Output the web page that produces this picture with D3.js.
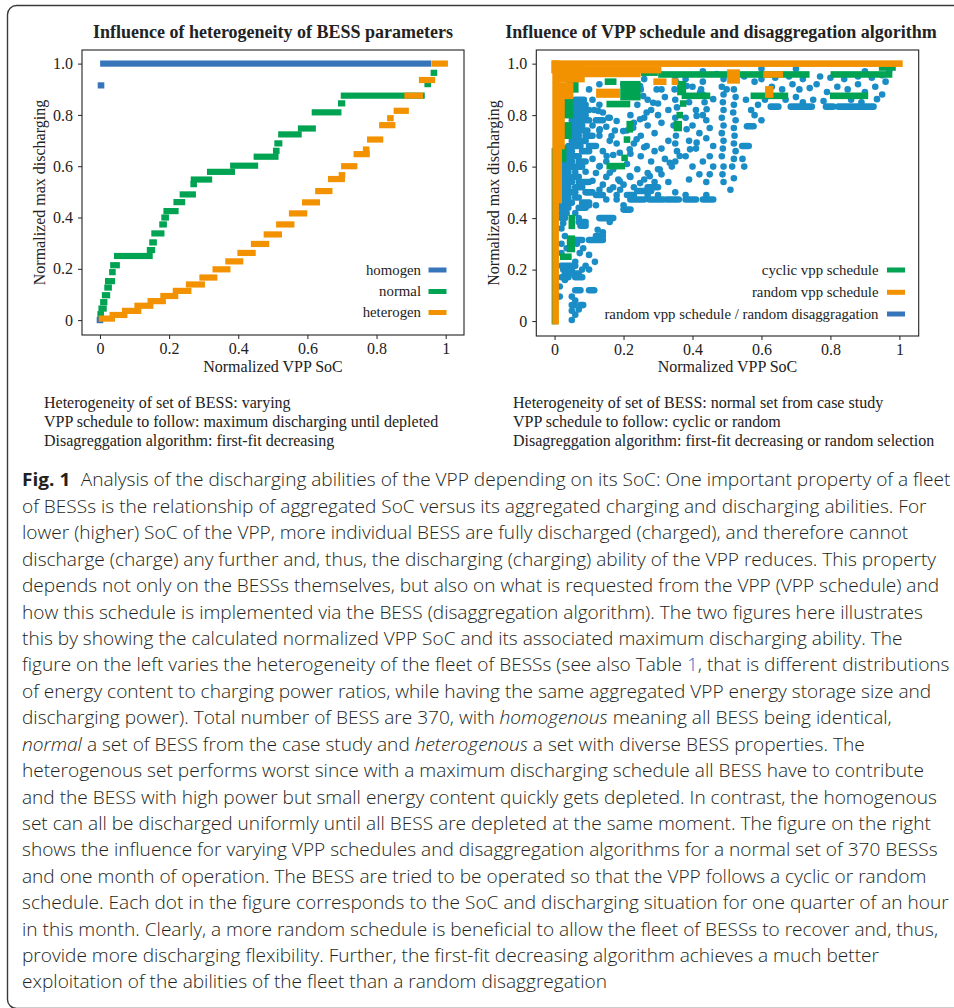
<!DOCTYPE html>
<html>
<head>
<meta charset="utf-8">
<script src="https://cdn.jsdelivr.net/npm/d3@7"></script>
<style>
	body { margin: 0; background: #fff; }
	svg { display: block; }
</style>
</head>
<body>
<div id="graphic"></div>
<script>
var graphic = d3.select('#graphic');

// ---- left panel: runs of square markers, [x first, x last, y] (marker centres)
var homogenSteps = [
	[0.0, 0.0, 0.0], [0.003, 0.003, 0.915], [0.01, 0.948, 1.0]
];
var normalSteps = [
	[0.002, 0.002, 0.023], [0.005, 0.01, 0.045], [0.01, 0.012, 0.07], [0.015, 0.02, 0.097],
	[0.022, 0.025, 0.127], [0.024, 0.034, 0.152], [0.036, 0.036, 0.187], [0.039, 0.048, 0.214],
	[0.05, 0.143, 0.25], [0.145, 0.15, 0.273], [0.152, 0.155, 0.303], [0.158, 0.177, 0.338],
	[0.181, 0.184, 0.373], [0.187, 0.19, 0.4], [0.193, 0.218, 0.425], [0.222, 0.237, 0.46],
	[0.24, 0.268, 0.49], [0.271, 0.271, 0.53], [0.272, 0.315, 0.548], [0.319, 0.381, 0.578],
	[0.386, 0.448, 0.602], [0.454, 0.507, 0.637], [0.51, 0.51, 0.66], [0.514, 0.518, 0.689],
	[0.525, 0.574, 0.724], [0.582, 0.615, 0.747], [0.622, 0.689, 0.81], [0.698, 0.7, 0.845],
	[0.706, 0.93, 0.875], [0.948, 0.948, 0.92], [0.966, 0.966, 0.964]
];
var heterogenSteps = [
	[0.006, 0.034, 0.006], [0.037, 0.07, 0.02], [0.073, 0.11, 0.036], [0.109, 0.145, 0.056],
	[0.147, 0.181, 0.074], [0.184, 0.217, 0.094], [0.22, 0.255, 0.114], [0.258, 0.294, 0.139],
	[0.297, 0.33, 0.166], [0.335, 0.368, 0.198], [0.372, 0.405, 0.229], [0.407, 0.441, 0.262],
	[0.446, 0.48, 0.297], [0.483, 0.517, 0.334], [0.519, 0.553, 0.373], [0.556, 0.59, 0.416],
	[0.594, 0.627, 0.459], [0.632, 0.663, 0.503], [0.669, 0.699, 0.55], [0.7, 0.7, 0.565],
	[0.707, 0.735, 0.6], [0.743, 0.771, 0.647], [0.77, 0.77, 0.665], [0.782, 0.81, 0.704],
	[0.817, 0.845, 0.76], [0.84, 0.84, 0.787], [0.859, 0.884, 0.816], [0.89, 0.925, 0.875],
	[0.932, 0.96, 0.936], [0.968, 0.997, 1.0]
];

// ---- right panel: square marker blocks [x0, x1, y0, y1] and dot runs [x0, x1, y]
var cyclicRuns = [
	[0.001, 0.001, 0.0, 0.66], [0.025, 0.04, 0.25, 0.25], [0.045, 0.05, 0.28, 0.32],
	[0.05, 0.05, 0.37, 0.4], [0.015, 0.025, 0.63, 0.67], [0.03, 0.04, 0.72, 0.76],
	[0.035, 0.045, 0.8, 0.85], [0.045, 0.06, 0.9, 0.95], [0.1, 0.1, 0.965, 0.965], [0.155, 0.17, 0.93, 0.93],
	[0.2, 0.24, 0.87, 0.92], [0.16, 0.21, 0.843, 0.843], [0.218, 0.218, 0.745, 0.765],
	[0.21, 0.21, 0.705, 0.705], [0.203, 0.203, 0.634, 0.634], [0.16, 0.195, 0.602, 0.602],
	[0.26, 0.29, 0.965, 0.965], [0.31, 0.73, 0.958, 0.958], [0.81, 0.97, 0.958, 0.958],
	[0.95, 0.98, 0.985, 0.985], [0.365, 0.372, 0.89, 0.92], [0.378, 0.442, 0.875, 0.875],
	[0.578, 0.668, 0.875, 0.875], [0.808, 0.9, 0.875, 0.875], [0.373, 0.373, 0.845, 0.845],
	[0.363, 0.363, 0.8, 0.8], [0.355, 0.36, 0.75, 0.765]
];
var randomRuns = [
	[0.003, 0.003, 0.0, 1.0], [0.0, 1.0, 1.0, 1.0], [0.0, 0.3, 0.975, 0.975],
	[0.09, 0.24, 0.96, 0.96], [0.005, 0.078, 0.94, 0.98], [0.006, 0.045, 0.875, 0.915],
	[0.006, 0.02, 0.68, 0.86], [0.006, 0.012, 0.47, 0.68], [0.13, 0.18, 0.88, 0.89],
	[0.296, 0.315, 0.93, 0.93], [0.349, 0.349, 0.93, 0.93], [0.51, 0.528, 0.935, 0.965],
	[0.615, 0.653, 0.958, 0.958], [0.62, 0.625, 0.88, 0.9]
];
var randomDisaggDots = [
	[0.05, 0.05, 0.004], [0.06, 0.06, 0.025], [0.05, 0.05, 0.04], [0.07, 0.07, 0.045],
	[0.05, 0.058, 0.062], [0.075, 0.083, 0.062], [0.06, 0.06, 0.08], [0.015, 0.015, 0.095],
	[0.05, 0.05, 0.095], [0.06, 0.075, 0.12], [0.1, 0.115, 0.12], [0.015, 0.015, 0.134],
	[0.03, 0.03, 0.16], [0.02, 0.04, 0.17], [0.06, 0.08, 0.17], [0.03, 0.07, 0.185],
	[0.025, 0.05, 0.2], [0.08, 0.08, 0.2], [0.1, 0.1, 0.2], [0.02, 0.06, 0.215],
	[0.09, 0.09, 0.215], [0.117, 0.117, 0.23], [0.06, 0.06, 0.23], [0.1, 0.1, 0.257],
	[0.02, 0.02, 0.264], [0.073, 0.073, 0.264], [0.035, 0.035, 0.283], [0.083, 0.083, 0.283],
	[0.02, 0.02, 0.3], [0.065, 0.065, 0.3], [0.055, 0.08, 0.315], [0.1, 0.14, 0.315],
	[0.03, 0.03, 0.33], [0.12, 0.14, 0.33], [0.14, 0.14, 0.345], [0.125, 0.125, 0.355],
	[0.02, 0.02, 0.36], [0.075, 0.09, 0.37], [0.16, 0.16, 0.385], [0.025, 0.025, 0.38],
	[0.07, 0.09, 0.385], [0.02, 0.03, 0.4], [0.07, 0.07, 0.4], [0.13, 0.17, 0.4],
	[0.02, 0.035, 0.42], [0.06, 0.06, 0.42], [0.2, 0.22, 0.433], [0.02, 0.04, 0.44],
	[0.07, 0.09, 0.44], [0.1, 0.1, 0.45], [0.12, 0.12, 0.45], [0.2, 0.2, 0.45],
	[0.02, 0.05, 0.46], [0.08, 0.1, 0.46], [0.15, 0.15, 0.472], [0.18, 0.18, 0.472],
	[0.22, 0.26, 0.472], [0.275, 0.315, 0.472], [0.325, 0.36, 0.472], [0.38, 0.41, 0.472],
	[0.43, 0.46, 0.472], [0.02, 0.04, 0.48], [0.06, 0.07, 0.48],
	[0.12, 0.14, 0.49], [0.18, 0.18, 0.49], [0.21, 0.23, 0.49], [0.27, 0.27, 0.49],
	[0.3, 0.3, 0.49], [0.38, 0.38, 0.49], [0.44, 0.44, 0.49], [0.02, 0.06, 0.5],
	[0.09, 0.11, 0.5], [0.13, 0.13, 0.51], [0.16, 0.16, 0.51], [0.19, 0.19, 0.51],
	[0.51, 0.51, 0.51], [0.24, 0.28, 0.505], [0.35, 0.35, 0.5],
	[0.02, 0.04, 0.52], [0.06, 0.08, 0.52], [0.14, 0.14, 0.53], [0.17, 0.17, 0.52], [0.2, 0.2, 0.53],
	[0.02, 0.05, 0.54], [0.07, 0.1, 0.54], [0.185, 0.185, 0.55], [0.11, 0.11, 0.545],
	[0.025, 0.07, 0.56], [0.15, 0.15, 0.56], [0.02, 0.04, 0.58], [0.06, 0.06, 0.58], [0.09, 0.09, 0.58],
	[0.17, 0.17, 0.59], [0.12, 0.12, 0.575], [0.03, 0.08, 0.6], [0.13, 0.13, 0.6],
	[0.02, 0.05, 0.62], [0.07, 0.09, 0.62], [0.11, 0.11, 0.63], [0.15, 0.15, 0.62],
	[0.03, 0.07, 0.64], [0.17, 0.17, 0.645], [0.02, 0.05, 0.66], [0.08, 0.1, 0.66],
	[0.14, 0.14, 0.66], [0.04, 0.075, 0.68], [0.1, 0.12, 0.68], [0.05, 0.09, 0.7],
	[0.16, 0.16, 0.7], [0.18, 0.18, 0.69], [0.05, 0.07, 0.72], [0.09, 0.11, 0.72],
	[0.13, 0.13, 0.72], [0.05, 0.095, 0.74], [0.13, 0.13, 0.74], [0.175, 0.175, 0.74],
	[0.045, 0.08, 0.76], [0.11, 0.11, 0.76], [0.15, 0.15, 0.755], [0.05, 0.1, 0.78],
	[0.12, 0.14, 0.78], [0.16, 0.16, 0.79], [0.055, 0.09, 0.8], [0.14, 0.14, 0.81],
	[0.055, 0.1, 0.82], [0.115, 0.115, 0.82], [0.055, 0.09, 0.84], [0.13, 0.13, 0.84],
	[0.06, 0.085, 0.86], [0.11, 0.11, 0.86], [0.1, 0.1, 0.9], [0.13, 0.13, 0.92],
	[0.2, 0.2, 0.92], [0.26, 0.26, 0.94],
	[0.127, 0.127, 0.816], [0.156, 0.156, 0.79], [0.18, 0.18, 0.777], [0.131, 0.131, 0.745],
	[0.165, 0.165, 0.719], [0.199, 0.199, 0.738], [0.228, 0.228, 0.751], [0.248, 0.248, 0.784],
	[0.267, 0.267, 0.81], [0.286, 0.286, 0.848], [0.257, 0.257, 0.874], [0.296, 0.296, 0.9],
	[0.248, 0.248, 0.913], [0.238, 0.238, 0.706], [0.267, 0.267, 0.68], [0.218, 0.218, 0.667],
	[0.189, 0.189, 0.654], [0.151, 0.151, 0.641], [0.131, 0.131, 0.602], [0.16, 0.16, 0.576],
	[0.189, 0.189, 0.543], [0.218, 0.218, 0.563], [0.248, 0.248, 0.536], [0.276, 0.276, 0.563],
	[0.305, 0.305, 0.589], [0.334, 0.334, 0.615], [0.363, 0.363, 0.641], [0.393, 0.393, 0.667],
	[0.412, 0.412, 0.693], [0.383, 0.383, 0.745], [0.412, 0.412, 0.797], [0.441, 0.441, 0.823],
	[0.46, 0.46, 0.862], [0.422, 0.422, 0.888], [0.383, 0.383, 0.913], [0.499, 0.499, 0.9],
	[0.22, 0.22, 0.88], [0.25, 0.25, 0.9], [0.27, 0.27, 0.86], [0.24, 0.24, 0.84],
	[0.28, 0.28, 0.82], [0.22, 0.22, 0.8], [0.26, 0.26, 0.79], [0.3, 0.3, 0.8],
	[0.23, 0.23, 0.77], [0.27, 0.27, 0.76], [0.21, 0.21, 0.74], [0.25, 0.25, 0.72],
	[0.29, 0.29, 0.73], [0.23, 0.23, 0.69], [0.26, 0.26, 0.675], [0.29, 0.29, 0.66],
	[0.22, 0.22, 0.65], [0.25, 0.25, 0.64], [0.28, 0.28, 0.62], [0.21, 0.21, 0.61],
	[0.24, 0.24, 0.59], [0.27, 0.27, 0.575], [0.3, 0.3, 0.59], [0.22, 0.22, 0.56],
	[0.26, 0.26, 0.55], [0.29, 0.29, 0.54], [0.23, 0.23, 0.52], [0.27, 0.3, 0.52],
	[0.31, 0.31, 0.9], [0.32, 0.32, 0.87], [0.3, 0.3, 0.845], [0.33, 0.33, 0.82],
	[0.31, 0.31, 0.77], [0.33, 0.33, 0.7], [0.31, 0.31, 0.67], [0.32, 0.32, 0.63],
	[0.34, 0.34, 0.6], [0.31, 0.31, 0.57], [0.33, 0.33, 0.54],
	[0.35, 0.35, 0.95], [0.352, 0.352, 0.93], [0.348, 0.348, 0.9], [0.35, 0.35, 0.86],
	[0.355, 0.355, 0.83], [0.35, 0.35, 0.79], [0.345, 0.345, 0.76], [0.352, 0.352, 0.72],
	[0.35, 0.35, 0.69], [0.355, 0.355, 0.66], [0.35, 0.35, 0.62],
	[0.38, 0.38, 0.94], [0.4, 0.4, 0.91], [0.39, 0.39, 0.85], [0.41, 0.41, 0.82],
	[0.38, 0.38, 0.79], [0.4, 0.4, 0.76], [0.42, 0.42, 0.73], [0.39, 0.39, 0.7],
	[0.41, 0.41, 0.67], [0.38, 0.38, 0.64], [0.4, 0.4, 0.6], [0.42, 0.42, 0.57],
	[0.39, 0.39, 0.55], [0.44, 0.44, 0.54], [0.43, 0.43, 0.93], [0.425, 0.425, 0.9],
	[0.43, 0.43, 0.88], [0.435, 0.435, 0.85], [0.43, 0.43, 0.8], [0.44, 0.44, 0.78],
	[0.45, 0.45, 0.75], [0.44, 0.44, 0.71], [0.46, 0.46, 0.68], [0.45, 0.45, 0.64],
	[0.43, 0.43, 0.62], [0.46, 0.46, 0.6], [0.45, 0.45, 0.57],
	[0.49, 0.49, 0.94], [0.485, 0.485, 0.91], [0.49, 0.49, 0.88], [0.488, 0.488, 0.85],
	[0.49, 0.49, 0.82], [0.485, 0.485, 0.79], [0.49, 0.49, 0.76], [0.485, 0.485, 0.73],
	[0.49, 0.49, 0.7], [0.488, 0.488, 0.67], [0.485, 0.485, 0.64], [0.49, 0.49, 0.6],
	[0.487, 0.487, 0.57], [0.49, 0.49, 0.54],
	[0.52, 0.52, 0.9], [0.525, 0.525, 0.87], [0.52, 0.52, 0.84], [0.518, 0.518, 0.81],
	[0.525, 0.525, 0.78], [0.52, 0.52, 0.75], [0.522, 0.522, 0.72], [0.52, 0.52, 0.69],
	[0.525, 0.525, 0.66], [0.52, 0.52, 0.63], [0.515, 0.515, 0.6], [0.52, 0.52, 0.555],
	[0.558, 0.577, 0.757], [0.544, 0.563, 0.68], [0.58, 0.58, 0.8], [0.6, 0.6, 0.78],
	[0.57, 0.57, 0.82], [0.59, 0.59, 0.84], [0.61, 0.61, 0.86], [0.555, 0.555, 0.86],
	[0.545, 0.545, 0.63], [0.55, 0.55, 0.6],
	[0.627, 0.649, 0.833], [0.685, 0.746, 0.833], [0.787, 0.808, 0.833], [0.823, 0.925, 0.833],
	[0.935, 0.935, 0.862], [0.95, 0.95, 0.88],
	[0.63, 0.63, 0.91], [0.66, 0.66, 0.9], [0.69, 0.69, 0.92], [0.71, 0.71, 0.9],
	[0.74, 0.74, 0.905], [0.76, 0.76, 0.92], [0.79, 0.79, 0.89], [0.82, 0.82, 0.91],
	[0.85, 0.85, 0.9], [0.88, 0.88, 0.92], [0.9, 0.9, 0.89], [0.93, 0.93, 0.91],
	[0.96, 0.96, 0.93], [0.67, 0.67, 0.86], [0.7, 0.7, 0.87], [0.72, 0.72, 0.85],
	[0.75, 0.75, 0.86], [0.78, 0.78, 0.855], [0.86, 0.86, 0.86], [0.89, 0.89, 0.85],
	[0.6, 0.6, 0.94], [0.64, 0.64, 0.945], [0.68, 0.68, 0.95], [0.72, 0.72, 0.94],
	[0.77, 0.77, 0.95], [0.8, 0.8, 0.945], [0.84, 0.84, 0.94], [0.88, 0.88, 0.95],
	[0.92, 0.92, 0.945], [0.95, 0.95, 0.955], [0.97, 0.97, 0.97], [0.9, 0.9, 0.97],
	[0.7, 0.7, 0.98], [0.6, 0.6, 0.98], [0.43, 0.43, 0.97], [0.47, 0.47, 0.96],
	[0.55, 0.55, 0.95], [0.58, 0.58, 0.93]
];

var xTicks = [0, 0.2, 0.4, 0.6, 0.8, 1];
var xTickLabels = ['0', '0.2', '0.4', '0.6', '0.8', '1'];
var yTicks = [0, 0.2, 0.4, 0.6, 0.8, 1];
var yTickLabels = ['0', '0.2', '0.4', '0.6', '0.8', '1.0'];

var leftTitle = 'Influence of heterogeneity of BESS parameters';
var rightTitle = 'Influence of VPP schedule and disaggregation algorithm';
var xLabel = 'Normalized VPP SoC';
var yLabel = 'Normalized max discharging';
var leftLegend = ['homogen', 'normal', 'heterogen'];
var rightLegend = ['cyclic vpp schedule', 'random vpp schedule', 'random vpp schedule / random disaggragation'];

var leftNotes = [
	'Heterogeneity of set of BESS: varying',
	'VPP schedule to follow: maximum discharging until depleted',
	'Disagreggation algorithm: first-fit decreasing'
];
var rightNotes = [
	'Heterogeneity of set of BESS: normal set from case study',
	'VPP schedule to follow: cyclic or random',
	'Disagreggation algorithm: first-fit decreasing or random selection'
];

var captionLines = [
	'**Fig. 1**Analysis of the discharging abilities of the VPP depending on its SoC: One important property of a fleet',
	'of BESSs is the relationship of aggregated SoC versus its aggregated charging and discharging abilities. For',
	'lower (higher) SoC of the VPP, more individual BESS are fully discharged (charged), and therefore cannot',
	'discharge (charge) any further and, thus, the discharging (charging) ability of the VPP reduces. This property',
	'depends not only on the BESSs themselves, but also on what is requested from the VPP (VPP schedule) and',
	'how this schedule is implemented via the BESS (disaggregation algorithm). The two figures here illustrates',
	'this by showing the calculated normalized VPP SoC and its associated maximum discharging ability. The',
	'figure on the left varies the heterogeneity of the fleet of BESSs (see also Table [1], that is different distributions',
	'of energy content to charging power ratios, while having the same aggregated VPP energy storage size and',
	'discharging power). Total number of BESS are 370, with *homogenous* meaning all BESS being identical,',
	'*normal* a set of BESS from the case study and *heterogenous* a set with diverse BESS properties. The',
	'heterogenous set performs worst since with a maximum discharging schedule all BESS have to contribute',
	'and the BESS with high power but small energy content quickly gets depleted. In contrast, the homogenous',
	'set can all be discharged uniformly until all BESS are depleted at the same moment. The figure on the right',
	'shows the influence for varying VPP schedules and disaggregation algorithms for a normal set of 370 BESSs',
	'and one month of operation. The BESS are tried to be operated so that the VPP follows a cyclic or random',
	'schedule. Each dot in the figure corresponds to the SoC and discharging situation for one quarter of an hour',
	'in this month. Clearly, a more random schedule is beneficial to allow the fleet of BESSs to recover and, thus,',
	'provide more discharging flexibility. Further, the first-fit decreasing algorithm achieves a much better',
	'exploitation of the abilities of the fleet than a random disaggregation'
];

var colours = {
	blue: '#3775ba',
	dots: '#1a8dc6',
	green: '#00a352',
	orange: '#f39200',
	text: '#222'
};
var serif = '"Liberation Serif", "Times New Roman", serif';
var markerSize = 6.6;

function drawGraphic() {
	graphic.selectAll('*').remove();

	var svg = graphic.append('svg')
		.attr('width', 954)
		.attr('height', 1008)
		.style('background-color', '#fff');

	// outer frame of the figure box (runs off the right and bottom edge)
	svg.append('rect')
		.attr('x', 7.5).attr('y', 5.5)
		.attr('width', 1000).attr('height', 1003)
		.attr('rx', 9)
		.attr('fill', 'none')
		.attr('stroke', '#3a3a3a')
		.attr('stroke-width', 1.4);

	// ---------- left panel
	var xL = d3.scaleLinear().domain([-0.052, 1.053]).range([82, 464]);
	var yL = d3.scaleLinear().domain([-0.058, 1.053]).range([335, 50]);
	var left = svg.append('g');
	drawAxes(left, xL, yL, leftTitle, 273);

	var series = [
		{ data: homogenSteps, colour: colours.blue },
		{ data: normalSteps, colour: colours.green },
		{ data: heterogenSteps, colour: colours.orange }
	];
	series.forEach(function (s) {
		left.append('g')
			.selectAll('rect')
			.data(s.data)
			.join('rect')
			.attr('x', (d) => xL(d[0]) - markerSize / 2)
			.attr('y', (d) => yL(d[2]) - markerSize / 2 + 0.2)
			.attr('width', (d) => xL(d[1]) - xL(d[0]) + markerSize)
			.attr('height', markerSize - 0.4)
			.attr('fill', s.colour);
	});

	drawLegend(left, leftLegend, [colours.blue, colours.green, colours.orange], 421, 428.5, 446.5, [270, 291.5, 312.5]);

	// ---------- right panel
	var xR = d3.scaleLinear().domain([-0.053, 1.056]).range([536.3, 918.7]);
	var yR = d3.scaleLinear().domain([-0.058, 1.053]).range([336, 50]);
	var right = svg.append('g');
	drawAxes(right, xR, yR, rightTitle, 721);

	svg.append('clipPath').attr('id', 'clipR')
		.append('rect').attr('x', 537).attr('y', 50.5).attr('width', 381).attr('height', 285);
	var plotR = right.append('g').attr('clip-path', 'url(#clipR)');

	// random disaggregation: round dots (runs of touching dots drawn as capsules)
	var dotG = plotR.append('g');
	dotG.selectAll('line')
		.data(randomDisaggDots.filter((d) => d[1] > d[0]))
		.join('line')
		.attr('x1', (d) => xR(d[0]))
		.attr('x2', (d) => xR(d[1]))
		.attr('y1', (d) => yR(d[2]))
		.attr('y2', (d) => yR(d[2]))
		.attr('stroke', colours.dots)
		.attr('stroke-width', markerSize)
		.attr('stroke-linecap', 'round');
	dotG.selectAll('circle')
		.data(randomDisaggDots.filter((d) => d[1] <= d[0]))
		.join('circle')
		.attr('cx', (d) => xR(d[0]))
		.attr('cy', (d) => yR(d[2]))
		.attr('r', markerSize / 2)
		.attr('fill', colours.dots);

	[{ data: cyclicRuns, colour: colours.green }, { data: randomRuns, colour: colours.orange }].forEach(function (s) {
		plotR.append('g')
			.selectAll('rect')
			.data(s.data)
			.join('rect')
			.attr('x', (d) => xR(d[0]) - markerSize / 2)
			.attr('y', (d) => yR(d[3]) - markerSize / 2)
			.attr('width', (d) => xR(d[1]) - xR(d[0]) + markerSize)
			.attr('height', (d) => yR(d[2]) - yR(d[3]) + markerSize)
			.attr('fill', s.colour);
	});

	drawLegend(right, rightLegend, [colours.green, colours.orange, colours.blue], 878.5, 887, 905, [270, 292.3, 314]);

	// ---------- notes under the panels
	[[leftNotes, 44], [rightNotes, 513]].forEach(function (n) {
		svg.append('g')
			.selectAll('text')
			.data(n[0])
			.join('text')
			.attr('x', n[1])
			.attr('y', (d, i) => 408 + i * 19)
			.attr('font-family', serif)
			.attr('font-size', 16)
			.attr('fill', colours.text)
			.text((d) => d);
	});

	// ---------- caption
	var cap = svg.append('g').attr('font-family', '"Open Sans", "Noto Sans", sans-serif')
		.attr('font-size', 18.5)
		.attr('font-weight', 300)
		.attr('fill', '#231f20');
	var capText = cap.append('g');
	var texts = [];
	captionLines.forEach(function (line, i) {
		var t = capText.append('text')
			.attr('x', 0)
			.attr('y', 486.5 + i * 26.42);
		texts.push(t);
		var afterBold = false;
		line.split(/(\*\*[^*]+\*\*|\*[^*]+\*|\[[^\]]+\])/).forEach(function (part) {
			if (!part) return;
			var span = t.append('tspan');
			if (afterBold) { span.attr('dx', 10); afterBold = false; }
			if (part.indexOf('**') === 0) {
				span.attr('font-weight', 'bold').text(part.slice(2, -2));
				afterBold = true;
			} else if (part[0] === '*') {
				span.attr('font-style', 'italic').text(part.slice(1, -1));
			} else if (part[0] === '[') {
				span.attr('fill', '#2b6cc4').text(part.slice(1, -1));
			} else {
				span.text(part);
			}
		});
	});
	// squeeze the caption horizontally: fit a few lines whose right end is known
	var fits = [[7, 941], [12, 946], [16, 946], [1, 931]];
	var k = d3.mean(fits, (f) => (f[1] - 22) / texts[f[0]].node().getComputedTextLength());
	capText.attr('transform', 'translate(22,0) scale(' + k + ',1)');
}

function drawAxes(g, x, y, title, titleX) {
	var xAxis = d3.axisBottom(x)
		.tickValues(xTicks)
		.tickFormat((d, i) => xTickLabels[i])
		.tickSize(4)
		.tickPadding(4)
		.tickSizeOuter(0);
	var yAxis = d3.axisLeft(y)
		.tickValues(yTicks)
		.tickFormat((d, i) => yTickLabels[i])
		.tickSize(4)
		.tickPadding(5)
		.tickSizeOuter(0);

	var x0 = x.range()[0], x1 = x.range()[1];
	var y0 = y.range()[0], y1 = y.range()[1];

	var ax = g.append('g')
		.attr('class', 'x axis')
		.attr('transform', 'translate(0,' + y0 + ')')
		.call(xAxis);
	var ay = g.append('g')
		.attr('class', 'y axis')
		.attr('transform', 'translate(' + x0 + ',0)')
		.call(yAxis);
	[ax, ay].forEach(function (a) {
		a.select('.domain').remove();
		a.selectAll('line').attr('stroke', colours.text).attr('stroke-width', 1);
		a.selectAll('text')
			.attr('font-family', serif)
			.attr('font-size', 16)
			.attr('fill', colours.text);
	});

	g.append('rect')
		.attr('x', x0).attr('y', y1)
		.attr('width', x1 - x0).attr('height', y0 - y1)
		.attr('fill', 'none')
		.attr('stroke', colours.text)
		.attr('stroke-width', 1.1);

	g.append('text')
		.attr('x', titleX).attr('y', 38)
		.attr('text-anchor', 'middle')
		.attr('font-family', serif)
		.attr('font-weight', 'bold')
		.attr('font-size', 18)
		.attr('fill', colours.text)
		.text(title);

	g.append('text')
		.attr('x', (x0 + x1) / 2).attr('y', 372)
		.attr('text-anchor', 'middle')
		.attr('font-family', serif)
		.attr('font-size', 16)
		.attr('fill', colours.text)
		.text(xLabel);

	g.append('text')
		.attr('transform', 'translate(' + (x0 - 37.5) + ',' + ((y0 + y1) / 2) + ') rotate(-90)')
		.attr('text-anchor', 'middle')
		.attr('font-family', serif)
		.attr('font-size', 16)
		.attr('fill', colours.text)
		.text(yLabel);
}

function drawLegend(g, labels, cols, textRight, lineStart, lineEnd, rows) {
	var items = g.append('g').selectAll('g')
		.data(labels)
		.join('g')
		.attr('transform', (d, i) => 'translate(0,' + rows[i] + ')');
	items.append('text')
		.attr('x', textRight)
		.attr('y', 4.5)
		.attr('text-anchor', 'end')
		.attr('font-family', serif)
		.attr('font-size', 14.8)
		.attr('fill', colours.text)
		.text((d) => d);
	items.append('line')
		.attr('x1', lineStart).attr('x2', lineEnd)
		.attr('stroke', (d, i) => cols[i])
		.attr('stroke-width', 5);
}

drawGraphic();
</script>
</body>
</html>
